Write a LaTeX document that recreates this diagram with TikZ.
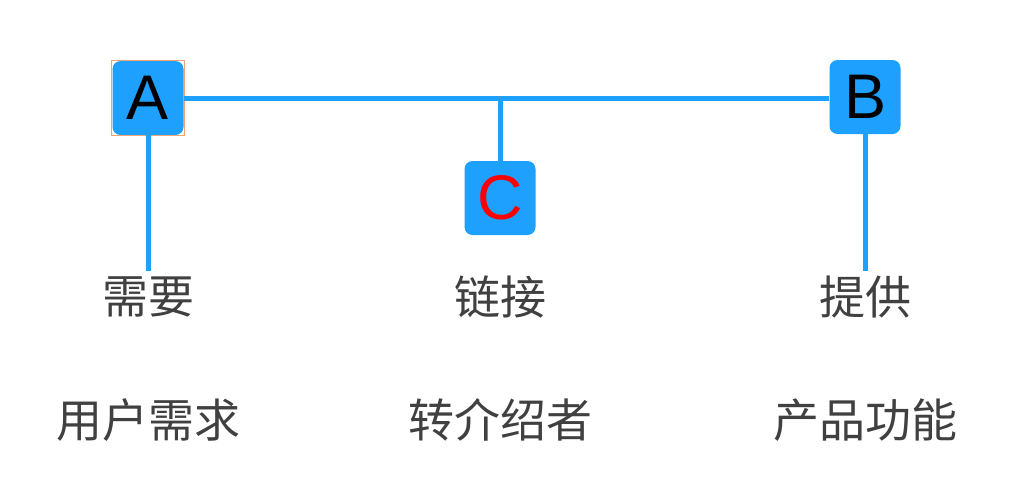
\documentclass[tikz,border=0pt]{standalone}
\usepackage{fontspec}
\setmainfont{Liberation Sans}
\newfontfamily\cjk{Noto Sans CJK SC}
\definecolor{myblue}{RGB}{30,160,255}
\definecolor{textgray}{RGB}{64,64,64}
\definecolor{selorange}{RGB}{240,165,110}
\begin{document}
\begin{tikzpicture}[x=1pt,y=-1pt,
  box/.style={fill=myblue, rounded corners=8pt, minimum width=71pt, minimum height=74pt, inner sep=0pt, font=\fontsize{63}{63}\selectfont},
  conn/.style={draw=myblue, line width=5pt},
  lbl/.style={font=\cjk\fontsize{46}{46}\selectfont, text=textgray, inner sep=0pt}]
\useasboundingbox (0,0) rectangle (1024,488);
\node[box] (A) at (148,98) {A};
\node[box] (B) at (865,97) {B};
\node[box, text=red] (C) at (500,198) {C};
\draw[selorange, line width=1pt] ([shift={(-0.5,0.5)}]A.south west) rectangle ([shift={(0.5,-0.5)}]A.north east);
\node[lbl] (n1) at (148,297) {需要};
\node[lbl] (n2) at (500,297) {链接};
\node[lbl] (n3) at (865,297) {提供};
\node[lbl] (m1) at (148,420) {用户需求};
\node[lbl] (m2) at (500,420) {转介绍者};
\node[lbl] (m3) at (865,420) {产品功能};
\coordinate (J) at (500,98);
\coordinate (a1) at (148,271);
\coordinate (b1) at (865,271);
\draw[conn] (A.east |- J) -- (B.west |- J);
\draw[conn] (J) -- (C.north);
\draw[conn] (A.south) -- (a1);
\draw[conn] (B.south) -- (b1);
\end{tikzpicture}
\end{document}
